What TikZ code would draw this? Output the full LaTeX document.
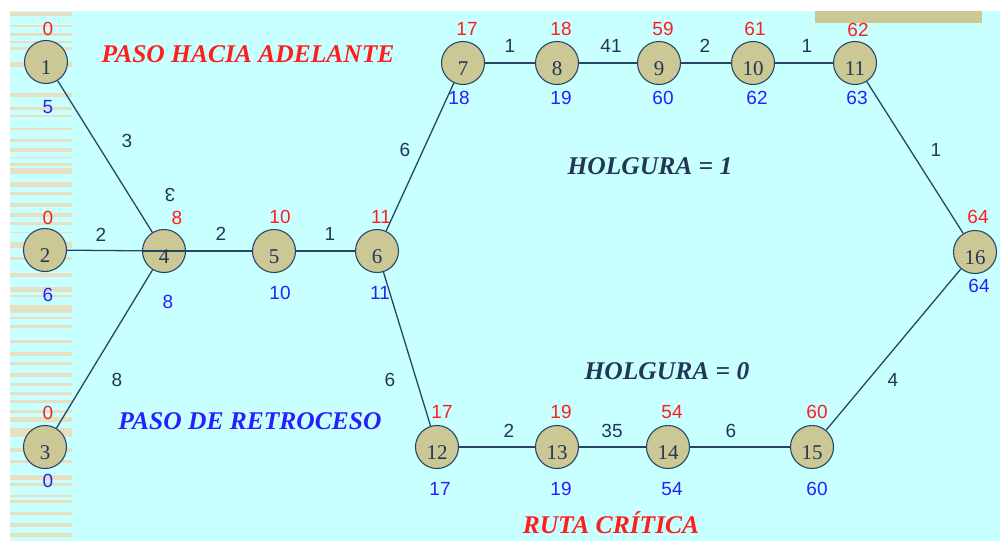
\documentclass[tikz,border=0pt]{standalone}
\usepackage{fontspec}
\setmainfont{Liberation Serif}
\newfontfamily\numfont{Liberation Sans}
\definecolor{bgcyan}{RGB}{200,255,255}
\definecolor{tan}{RGB}{204,200,150}
\definecolor{stripe}{RGB}{230,224,195}
\definecolor{navy}{RGB}{35,55,85}
\definecolor{edgec}{RGB}{40,70,100}
\definecolor{rednum}{RGB}{255,30,30}
\definecolor{bluenum}{RGB}{40,30,255}
\tikzset{
  circ/.style={circle,draw=edgec,line width=1.1pt,fill=tan,minimum size=43pt,inner sep=0pt},
  ntext/.style={font=\fontsize{21}{24}\selectfont,text=navy,inner sep=0pt},
  es/.style={inner sep=0pt,text=navy,font=\numfont\fontsize{19}{22}\selectfont},
  rs/.style={inner sep=0pt,text=rednum,font=\numfont\fontsize{19}{22}\selectfont},
  bs/.style={inner sep=0pt,text=bluenum,font=\numfont\fontsize{19}{22}\selectfont},
  conn/.style={draw=edgec,line width=1.3pt},
  title/.style={inner sep=0pt,font=\fontsize{25.5}{28}\selectfont\bfseries\itshape}
}
\begin{document}
\begin{tikzpicture}[x=1pt,y=-1pt]
\useasboundingbox (0,0) rectangle (1000,541);
\fill[white] (0,0) rectangle (1000,541);
\fill[bgcyan] (10,11) rectangle (1000,541);
\foreach \a/\b in {12/16,25/27,33/36,41/43,47/50,62/67,93/97,107/110,115/117,128/130,139/142,148/152,157/158,163/166,168/174,182/185,192/193,
  183/187,192/195,203/207,213/217,222/225,232/233,242/248,257/260,273/277,287/292,295/297,305/313,317/319,325/328,340/343,352/356,
  362/365,373/377,383/386,392/395,400/403,410/413,417/422,428/437,448/452,460/463,475/480,483/486,495/497,500/503,512/515,523/527,533/537}
  \fill[stripe] (10,\a) rectangle (72,\b);
\fill[tan] (815,11) rectangle (982,23);

% nodes
\node[circ] (n1) at (46,62) {};
\node[circ] (n2) at (45,250) {};
\node[circ] (n3) at (45,447) {};
\node[circ] (n4) at (164,251) {};
\node[circ] (n5) at (274,251) {};
\node[circ] (n6) at (377,251) {};
\node[circ] (n7) at (463,63) {};
\node[circ] (n8) at (557,63) {};
\node[circ] (n9) at (659,63) {};
\node[circ] (n10) at (753,63) {};
\node[circ] (n11) at (855,63) {};
\node[circ] (n12) at (437,447) {};
\node[circ] (n13) at (557,447) {};
\node[circ] (n14) at (668,447) {};
\node[circ] (n15) at (812,447) {};
\node[circ] (n16) at (975,252) {};

% connectors
\draw[conn] (n1) -- (n4);
\draw[conn] (n3) -- (n4);
\draw[conn] (n2) -- (n4);
\draw[conn] (n4) -- (n5);
\draw[conn] (n4.west) -- (n4.east);
\draw[conn] (n5) -- (n6);
\draw[conn] (n6) -- (n7);
\draw[conn] (n6) -- (n12);
\draw[conn] (n7) -- (n8);
\draw[conn] (n8) -- (n9);
\draw[conn] (n9) -- (n10);
\draw[conn] (n10) -- (n11);
\draw[conn] (n11) -- (n16);
\draw[conn] (n12) -- (n13);
\draw[conn] (n13) -- (n14);
\draw[conn] (n14) -- (n15);
\draw[conn] (n15) -- (n16);

% node numbers
\foreach \n in {1,...,16}
  \node[ntext] at ([yshift=-6pt]n\n.center) {\n};

% red (early) numbers
\node[rs] (r1) at (48,29) {0};
\node[rs] (r2) at (48,218) {0};
\node[rs] (r3) at (48,413) {0};
\node[rs] (r4) at (177,218) {8};
\node[rs] (r5) at (280,217) {10};
\node[rs] (r6) at (381,217) {11};
\node[rs] (r7) at (467,29) {17};
\node[rs] (r8) at (561,29) {18};
\node[rs] (r9) at (663,29) {59};
\node[rs] (r10) at (755,29) {61};
\node[rs] (r11) at (858,30) {62};
\node[rs] (r12) at (442,412) {17};
\node[rs] (r13) at (561,412) {19};
\node[rs] (r14) at (672,412) {54};
\node[rs] (r15) at (817,412) {60};
\node[rs] (r16) at (978,217) {64};

% blue (late) numbers
\node[bs] (b1) at (48,107) {5};
\node[bs] (b2) at (48,295) {6};
\node[bs] (b3) at (48,481) {0};
\node[bs] (b4) at (168,302) {8};
\node[bs] (b5) at (280,293) {10};
\node[bs] (b6) at (380,293) {11};
\node[bs] (b7) at (459,98) {18};
\node[bs] (b8) at (561,98) {19};
\node[bs] (b9) at (663,98) {60};
\node[bs] (b10) at (757,98) {62};
\node[bs] (b11) at (857,98) {63};
\node[bs] (b12) at (440,489) {17};
\node[bs] (b13) at (561,489) {19};
\node[bs] (b14) at (672,489) {54};
\node[bs] (b15) at (817,489) {60};
\node[bs] (b16) at (979,286) {64};

% edge durations
\node[es] (e14) at (127,141) {3};
\node[es] (e24) at (101,235) {2};
\node[es] (e34) at (117,380) {8};
\node[es] (e45) at (221,234) {2};
\node[es] (e56) at (330,234) {1};
\node[es] (e67) at (405,150) {6};
\node[es] (e612) at (390,380) {6};
\node[es] (e78) at (510,46) {1};
\node[es] (e89) at (611,46) {41};
\node[es] (e910) at (705,46) {2};
\node[es] (e1011) at (807,46) {1};
\node[es] (e1116) at (936,150) {1};
\node[es] (e1213) at (509,431) {2};
\node[es] (e1314) at (612,431) {35};
\node[es] (e1415) at (731,431) {6};
\node[es] (e1516) at (893,380) {4};
\node[es,rotate=180] (eps) at (170,195) {3};

% titles
\node[title,text=rednum] (t1) at (248,54) {PASO HACIA ADELANTE};
\node[title,text=bluenum] (t2) at (250,421) {PASO DE RETROCESO};
\node[title,text=navy] (t3) at (650,166) {HOLGURA = 1};
\node[title,text=navy] (t4) at (667,371) {HOLGURA = 0};
\node[title,text=rednum] (t5) at (611,523) {RUTA CRÍTICA};
\end{tikzpicture}
\end{document}
